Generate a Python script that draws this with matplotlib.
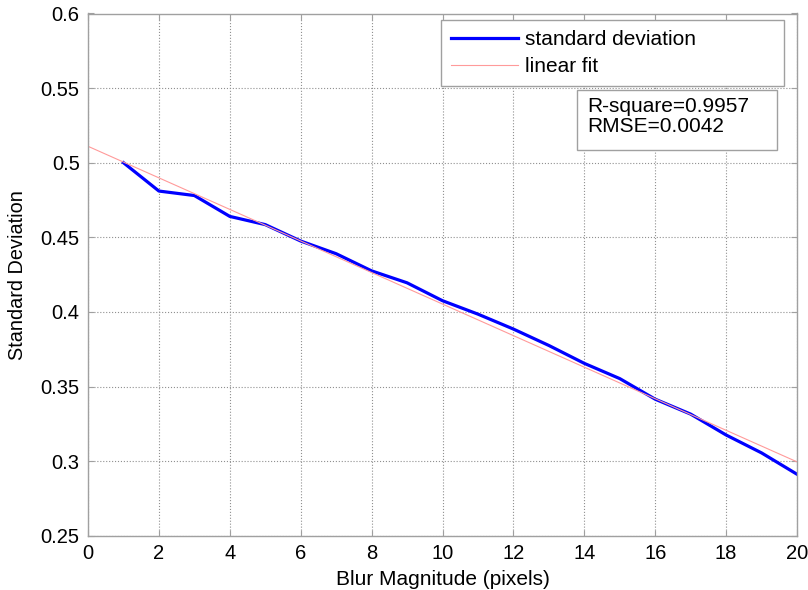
import matplotlib
matplotlib.use("Agg")
import matplotlib.pyplot as plt
from matplotlib.patches import Rectangle

blur = [1, 2, 3, 4, 5, 6, 7, 8, 9, 10, 11, 12, 13, 14, 15, 16, 17, 18, 19, 20]
std_dev = [0.500, 0.481, 0.478, 0.464, 0.4585, 0.4475, 0.439, 0.4275, 0.4195, 0.4075,
           0.3985, 0.3885, 0.3775, 0.3655, 0.3553, 0.3415, 0.3315, 0.3175, 0.3055, 0.2912]
fit_x = [0, 20]
fit_y = [0.511, 0.2995]
stats_text = "R-square=0.9957\nRMSE=0.0042"

plt.rcParams['font.family'] = ['Liberation Sans', 'DejaVu Sans']
edge = '#a0a0a0'
W, H = 808, 590

fig = plt.figure(figsize=(8.08, 5.9), dpi=100)
ax = fig.add_axes([88 / W, 1 - 535.7 / H, (797 - 88) / W, (535.7 - 13.5) / H])

ax.plot(blur, std_dev, color='#0000ff', linewidth=2.3, label='standard deviation')
ax.plot(fit_x, fit_y, color='#ff9a9a', linewidth=0.8, label='linear fit')

ax.set_xlim(0, 20)
ax.set_ylim(0.25, 0.6)
ax.set_xticks(range(0, 21, 2))
ax.set_yticks([0.25, 0.3, 0.35, 0.4, 0.45, 0.5, 0.55, 0.6])
ax.set_yticklabels(['0.25', '0.3', '0.35', '0.4', '0.45', '0.5', '0.55', '0.6'])
ax.grid(True, linestyle=':', color='#909090', linewidth=0.8)
ax.tick_params(direction='in', length=4, color=edge, labelsize=14.5, pad=6,
               top=True, right=True)
for s in ax.spines.values():
    s.set_color(edge)
    s.set_linewidth(1)

ax.set_xlabel('Blur Magnitude (pixels)', fontsize=15, labelpad=5)
ax.set_ylabel('Standard Deviation', fontsize=14.3, labelpad=10)

# legend box stretched to the MATLAB-like width
leg = ax.legend(loc='upper left', bbox_to_anchor=(441 / W, 1 - 84 / H, 343 / W, 64 / H),
                bbox_transform=fig.transFigure, mode='expand', borderaxespad=0,
                fontsize=15, handlelength=3.2, handletextpad=0.35, labelspacing=0.4,
                borderpad=0.48, fancybox=False, framealpha=1)
leg.get_frame().set_edgecolor(edge)
leg.get_frame().set_linewidth(1)

fig.patches.append(Rectangle((577 / W, 1 - 150 / H), 200 / W, 60 / H,
                             transform=fig.transFigure, facecolor='white',
                             edgecolor=edge, linewidth=1, zorder=3))
fig.text(587 / W, 1 - 97 / H, stats_text, fontsize=15, va='top', ha='left',
         linespacing=1.1, zorder=4)

fig.savefig('out.png', dpi=100)
